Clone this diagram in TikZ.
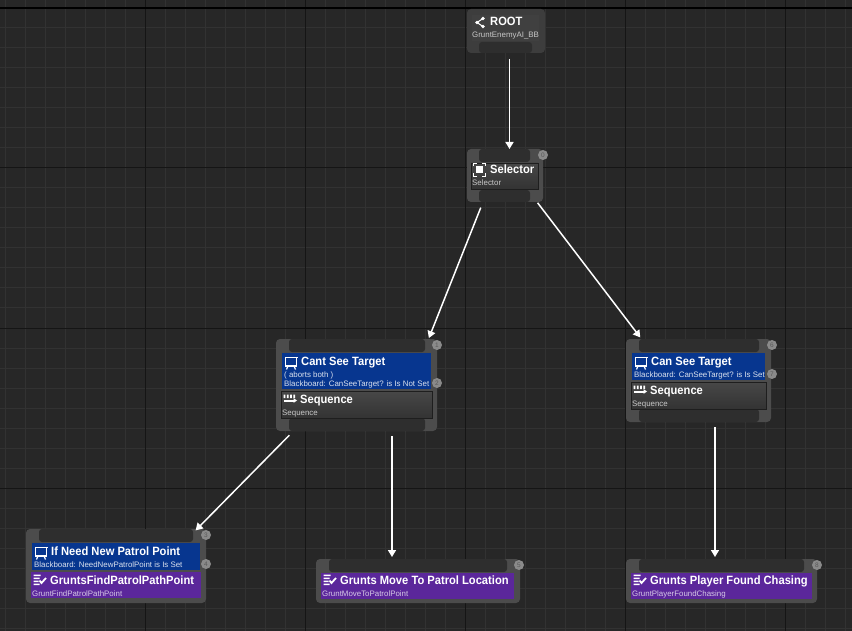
\documentclass[tikz,border=0pt]{standalone}
\usepackage{fontspec}
\setmainfont{Liberation Sans}
\newfontfamily\titlefont[FakeStretch=0.93]{Liberation Sans}
\usetikzlibrary{arrows.meta}
\definecolor{bggrid}{HTML}{272727}
\definecolor{minorline}{HTML}{323232}
\definecolor{majorline}{HTML}{151515}
\definecolor{bodygray}{HTML}{4C4C4C}
\definecolor{notchgray}{HTML}{2E2E2E}
\definecolor{deco}{HTML}{07368F}
\definecolor{task}{HTML}{5B279B}
\definecolor{badgegray}{HTML}{8A8A8A}
\definecolor{subtext}{HTML}{C8C8C8}
\tikzset{
  body/.style={fill=bodygray, rounded corners=4pt, inner sep=0pt, outer sep=0pt},
  notch/.style={fill=notchgray, rounded corners=3pt},
  panel/.style={top color=white!28!black, bottom color=white!20!black, draw=black!60!bodygray, line width=.6pt},
  titletxt/.style={anchor=base west, inner sep=0pt, text=white, font=\fontsize{12}{12}\titlefont\bfseries},
  subtxt/.style={anchor=base west, inner sep=0pt, text=subtext, font=\fontsize{7.9}{8}\selectfont},
  badge/.style={circle, fill=badgegray, minimum size=10pt, inner sep=0pt, text=black!65, font=\fontsize{6.5}{6.5}\selectfont},
  wire/.style={draw=white, line width=1.5pt, -{Triangle[length=7pt,width=8pt]}},
  pics/treeicon/.style={code={
    \draw[white, line width=1pt] (-3,-.5) -- (3,-4.5) (-3,-.5) -- (3,3.5);
    \fill[white] (-3,-.5) circle (1.8pt) (3,-4.5) circle (1.8pt) (3,3.5) circle (1.8pt);
  }},
  pics/selicon/.style={code={
    \draw[white, line width=1.4pt] (-6,-3.5) -- (-6,-6.5) -- (-2.5,-6.5) (2.5,-6.5) -- (6,-6.5) -- (6,-3.5)
      (6,3.5) -- (6,6.5) -- (2.5,6.5) (-2.5,6.5) -- (-6,6.5) -- (-6,3.5);
    \fill[white] (-3.5,-3.5) rectangle (3.5,3.5);
  }},
  pics/boardicon/.style={code={
    \draw[white, line width=1.2pt] (-5.5,-5) rectangle (5.5,3.5);
    \draw[white, line width=1.2pt] (-3,3.5) -- (-4.5,7) (3,3.5) -- (4.5,7);
    \fill[white] (-6.5,-6) rectangle (6.5,-4.6);
  }},
  pics/seqicon/.style={code={
    \fill[white] (-6.5,-4) rectangle (-4.7,-.3) (-3.2,-4) rectangle (-1.4,-.3) (.1,-4) rectangle (1.9,-.3) (3.4,-4) rectangle (5.2,-.3);
    \fill[white] (-6.5,1) rectangle (3.5,3);
    \fill[white] (3.5,-.4) -- (7,2) -- (3.5,4.4) -- cycle;
  }},
  pics/taskicon/.style={code={
    \fill[white] (-6.5,-5.5) rectangle (.5,-4) (-6.5,-2.5) rectangle (-.5,-1) (-6.5,.5) rectangle (-1.5,2) (-6.5,3.5) rectangle (-.5,5);
    \draw[white, line width=1.8pt] (-.5,.5) -- (1.5,3) -- (6,-2);
  }},
}
\begin{document}
\begin{tikzpicture}[x=1pt,y=-1pt]
\useasboundingbox (0,0) rectangle (852,631);
\fill[bggrid] (0,0) rectangle (852,631);
% grid
\foreach \gx in {5,25,...,845} \draw[minorline, line width=1pt] (\gx,0) -- (\gx,631);
\foreach \gy in {28,48,...,628} \draw[minorline, line width=1pt] (0,\gy) -- (852,\gy);
\foreach \gx in {145,305,465,625,785} \draw[majorline, line width=1pt] (\gx,0) -- (\gx,631);
\foreach \gy in {168,328,488} \draw[majorline, line width=1pt] (0,\gy) -- (852,\gy);
\draw[black, line width=1.5pt] (0,8) -- (852,8);

% root
\node[body, fill=black!20!bodygray, minimum width=78pt, minimum height=44pt] (root) at (506,31){};
\fill[white!25!black] (472,15) rectangle (539,41);
\fill[notch] (479,42) rectangle (532,53);
\pic at (480,23) {treeicon};
\node[titletxt] (roottxt) at (490,26){ROOT};
\node[subtxt] (rootsub) at (472,38){GruntEnemyAI\_BB};

% selector
\node[body, minimum width=76pt, minimum height=53pt] (sel) at (505,175.5){};
\fill[notch] (479,149) rectangle (530,162);
\fill[notch] (479,190) rectangle (530,202);
\path[panel] (471,163) rectangle (538,189);
\pic at (479.5,170) {selicon};
\node[titletxt] (seltxt) at (490,174){Selector};
\node[subtxt] (selsub) at (472,186){Selector};
\node[badge] (b0) at (543,155){0};

% cant see target
\node[body, minimum width=161pt, minimum height=92pt] (cant) at (356.5,385){};
\fill[notch] (289,339) rectangle (425,352);
\fill[notch] (289,418) rectangle (425,431);
\fill[deco] (282,353) rectangle (431,389);
\path[panel] (281,391) rectangle (432,418);
\pic at (291,362.5) {boardicon};
\pic at (290,398.5) {seqicon};
\node[titletxt] (canttxt) at (301,365){Cant See Target};
\node[subtxt, text=white!85!deco] (cantabort) at (284,377){( aborts both )};
\node[subtxt, text=white!85!deco] (cantbb) at (284,386.5){Blackboard: CanSeeTarget? is Is Not Set};
\node[titletxt] (cantseq) at (300,403){Sequence};
\node[subtxt] (cantseqsub) at (282,415){Sequence};
\node[badge] (b1) at (437,345){1};
\node[badge] (b2) at (437,383){2};

% can see target
\node[body, minimum width=145pt, minimum height=83pt] (can) at (698.5,380.5){};
\fill[notch] (639,339) rectangle (759,352);
\fill[notch] (639,409) rectangle (759,422);
\fill[deco] (632,353) rectangle (765,380);
\path[panel] (631,382) rectangle (766,409);
\pic at (641,362.5) {boardicon};
\pic at (640,389.5) {seqicon};
\node[titletxt] (cantxt) at (651,365){Can See Target};
\node[subtxt, text=white!85!deco] (canbb) at (634,377){Blackboard: CanSeeTarget? is Is Set};
\node[titletxt] (canseq) at (650,394){Sequence};
\node[subtxt] (canseqsub) at (632,406){Sequence};
\node[badge] (b6) at (772,345){6};
\node[badge] (b7) at (772,374){7};

% if need new patrol point
\node[body, minimum width=180pt, minimum height=74pt] (need) at (116,566){};
\fill[notch] (39,529) rectangle (193,542);
\fill[deco] (32,543) rectangle (200,570);
\fill[task] (31,572) rectangle (201,598);
\pic at (41,552.5) {boardicon};
\pic at (40,580) {taskicon};
\node[titletxt] (needtxt) at (51,555){If Need New Patrol Point};
\node[subtxt, text=white!85!deco] (needbb) at (34,567){Blackboard: NeedNewPatrolPoint is Is Set};
\node[titletxt] (findtxt) at (50,584){GruntsFindPatrolPathPoint};
\node[subtxt, text=white!75!task] (findsub) at (32,596){GruntFindPatrolPathPoint};
\node[badge] (b3) at (206,535){3};
\node[badge] (b4) at (206,564){4};

% move to patrol
\node[body, minimum width=204pt, minimum height=44pt] (move) at (418,581){};
\fill[notch] (329,559) rectangle (507,572);
\fill[task] (321,573) rectangle (514,599);
\pic at (330,580) {taskicon};
\node[titletxt] (movetxt) at (340,584){Grunts Move To Patrol Location};
\node[subtxt, text=white!75!task] (movesub) at (322,596){GruntMoveToPatrolPoint};
\node[badge] (b5) at (519,565){5};

% player found
\node[body, minimum width=191pt, minimum height=44pt] (chase) at (721.5,581){};
\fill[notch] (639,559) rectangle (804,572);
\fill[task] (631,573) rectangle (812,599);
\pic at (640,580) {taskicon};
\node[titletxt] (chasetxt) at (650,584){Grunts Player Found Chasing};
\node[subtxt, text=white!75!task] (chasesub) at (632,596){GruntPlayerFoundChasing};
\node[badge] (b8) at (817,565){8};

% wires
\draw[wire, shorten <=6pt] ([xshift=3.5pt]root.south) -- ([xshift=4.5pt]sel.north);
\draw[wire, shorten <=6pt, shorten >=1pt] ([xshift=-22pt]sel.south) -- ([xshift=72pt]cant.north);
\draw[wire, shorten <=1pt, shorten >=2pt] ([xshift=32pt]sel.south) -- ([xshift=-57pt]can.north);
\draw[wire, shorten <=6pt, shorten >=-2pt] ([xshift=-63pt]cant.south) -- ([xshift=81pt]need.north);
\draw[wire, shorten <=5pt, shorten >=2pt] ([xshift=35.5pt]cant.south) -- ([xshift=-26pt]move.north);
\draw[wire, shorten <=5pt, shorten >=2pt] ([xshift=16.5pt]can.south) -- ([xshift=-6.5pt]chase.north);
\end{tikzpicture}
\end{document}
